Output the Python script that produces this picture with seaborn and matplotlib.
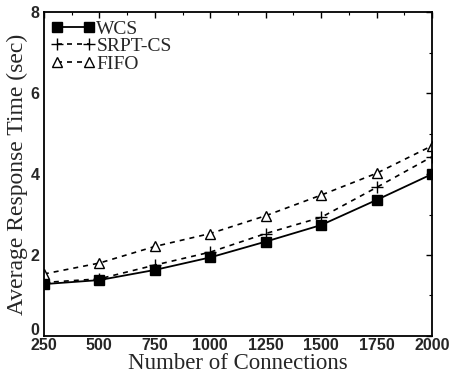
import matplotlib
matplotlib.use("Agg")
import matplotlib.pyplot as plt
import matplotlib.transforms as mtransforms
import seaborn as sns
import pandas as pd
from matplotlib.ticker import AutoMinorLocator

connections = [250, 500, 750, 1000, 1250, 1500, 1750, 2000]
wcs = [1.28, 1.38, 1.63, 1.94, 2.33, 2.74, 3.36, 4.00]
srpt = [1.32, 1.41, 1.75, 2.07, 2.53, 2.93, 3.67, 4.43]
fifo = [1.53, 1.80, 2.21, 2.53, 2.97, 3.48, 4.02, 4.70]
series_names = ["WCS", "SRPT-CS", "FIFO"]
x_ticks = [250, 500, 750, 1000, 1250, 1500, 1750, 2000]
y_ticks = [0, 2, 4, 6, 8]

sns.set_theme(style="white")
plt.rcParams['font.family'] = ['Liberation Serif', 'DejaVu Serif']

df = pd.DataFrame({
    "Connections": connections * 3,
    "Time": wcs + srpt + fifo,
    "Scheme": [series_names[0]] * 8 + [series_names[1]] * 8 + [series_names[2]] * 8,
})

fig = plt.figure(figsize=(4.52, 3.80), dpi=100)
ax = fig.add_axes([0.097, 0.116, 0.859, 0.852])

styles = {
    "WCS": dict(ls="-", marker="s", ms=7, mfc="black", mec="black", lw=1.3),
    "SRPT-CS": dict(ls=(0, (3, 3)), marker="+", ms=8, mfc="black", mec="black", lw=1.2, mew=1.0),
    "FIFO": dict(ls=(0, (3, 3)), marker="^", ms=7, mfc="white", mec="black", lw=1.2, mew=1.0),
}
for name in series_names:
    sub = df[df["Scheme"] == name]
    st = styles[name]
    sns.lineplot(data=sub, x="Connections", y="Time", ax=ax, color="black",
                 linestyle=st["ls"], linewidth=st["lw"], marker=st["marker"],
                 markersize=st["ms"], markerfacecolor=st["mfc"],
                 markeredgecolor=st["mec"], markeredgewidth=st.get("mew", 1.0),
                 label=name)

ax.set_xlim(250, 2000)
ax.set_ylim(0, 8)
ax.set_xticks(x_ticks)
ax.set_yticks(y_ticks)
ax.xaxis.set_minor_locator(AutoMinorLocator(2))
ax.yaxis.set_minor_locator(AutoMinorLocator(2))
ax.tick_params(axis="both", which="both", direction="in", top=True, right=True, color="black")
ax.tick_params(which="major", length=4, width=1)
ax.tick_params(which="minor", length=2, width=0.8)
for lab in ax.get_xticklabels() + ax.get_yticklabels():
    lab.set_fontfamily(['Liberation Sans', 'DejaVu Sans'])
    lab.set_fontweight("bold")
    lab.set_fontsize(11.5)
ax.tick_params(axis="x", pad=1.5)
ax.tick_params(axis="y", pad=3)
# nudge the "0" label slightly upward so it does not collide with "250"
zero_lab = ax.get_yticklabels()[0]
zero_lab.set_transform(zero_lab.get_transform() +
                       mtransforms.ScaledTranslation(0, 7 / 100, fig.dpi_scale_trans))
for sp in ax.spines.values():
    sp.set_color("black")
    sp.set_linewidth(1.3)

ax.set_xlabel("Number of Connections", fontsize=16.5, labelpad=0)
ax.set_ylabel("Average Response Time (sec)", fontsize=17, labelpad=2)

leg = ax.legend(loc="upper left", frameon=False, fontsize=14, handlelength=2.2,
                numpoints=2, handletextpad=0.1, labelspacing=0.0,
                borderaxespad=0.2, borderpad=0.2)

fig.savefig("out.png", dpi=100)
